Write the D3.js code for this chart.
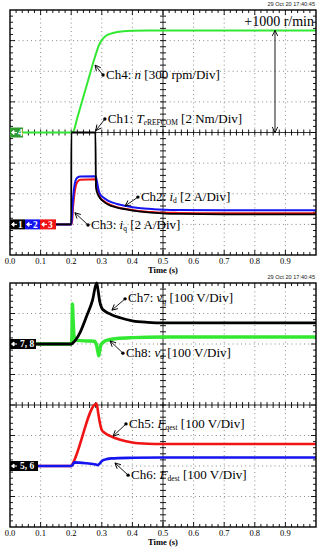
<!DOCTYPE html>
<html><head><meta charset="utf-8">
<script src="https://cdn.jsdelivr.net/npm/d3@7"></script>
<style>body{margin:0;background:#fff}svg{display:block}</style>
</head><body><svg id="c" width="321" height="550"></svg>
<script>
// ---------------- data ----------------
const tickValues = [0, 0.1, 0.2, 0.3, 0.4, 0.5, 0.6, 0.7, 0.8, 0.9];
const tickLabels = ["0.0","0.1","0.2","0.3","0.4","0.5","0.6","0.7","0.8","0.9"];
const timestamp = "29 Oct 20 17:40:45";

// Ch4 speed n (rpm)
const speedTime = [0, 0.2, 0.206, 0.22, 0.24, 0.26, 0.275, 0.283, 0.29, 0.30, 0.31, 0.32, 0.34, 0.37, 0.40, 0.45, 1.0];
const speedRpm  = [0, 0, 5, 145, 352, 560, 715, 790, 850, 905, 938, 958, 978, 991, 997, 1000, 1000];
// Ch1 torque reference (Nm)
const torqueTime = [0, 0.2, 0.2005, 0.279, 0.281, 0.287, 0.295, 0.305, 0.32, 0.35, 0.38, 0.42, 0.47, 0.55, 0.7, 1.0];
const torqueNm   = [0, 0, 9, 9, 2.4, 1.95, 1.7, 1.5, 1.3, 1.1, 0.98, 0.85, 0.75, 0.68, 0.65, 0.65];
// Ch2 id (A)
const idTime = [0, 0.2, 0.202, 0.205, 0.209, 0.214, 0.22, 0.23, 0.28, 0.284, 0.29, 0.295, 0.305, 0.32, 0.35, 0.38, 0.42, 0.47, 0.55, 0.7, 1.0];
const idAmp  = [0, 0, 0.3, 1.4, 2.3, 2.85, 3.05, 3.12, 3.14, 2.8, 2.2, 1.95, 1.75, 1.55, 1.33, 1.2, 1.07, 0.99, 0.94, 0.92, 0.92];
// Ch3 iq (A)
const iqTime = [0, 0.2, 0.203, 0.206, 0.21, 0.215, 0.22, 0.23, 0.28, 0.284, 0.29, 0.295, 0.305, 0.32, 0.35, 0.38, 0.42, 0.47, 0.55, 0.7, 1.0];
const iqAmp  = [0, 0, 0.2, 1.1, 1.9, 2.5, 2.78, 2.92, 2.94, 2.6, 2.0, 1.75, 1.55, 1.35, 1.12, 1.0, 0.88, 0.8, 0.75, 0.72, 0.72];
// Ch7 vq (V)
const vqTime = [0, 0.2, 0.205, 0.215, 0.23, 0.25, 0.27, 0.283, 0.288, 0.293, 0.30, 0.31, 0.33, 0.36, 0.40, 0.45, 0.5, 1.0];
const vqVolt = [0, 0, 3, 14, 40, 90, 145, 200, 175, 140, 118, 108, 97, 86, 76, 71, 69, 69];
// Ch8 vd (V)
const vdTime = [0, 0.2, 0.202, 0.204, 0.206, 0.209, 0.213, 0.22, 0.25, 0.275, 0.282, 0.287, 0.29, 0.293, 0.297, 0.303, 0.315, 0.35, 0.40, 0.5, 1.0];
const vdVolt = [0, 0, 15, 131, 90, 30, 14, 12, 10, 9, 0, -25, -39, -25, -3, 4, 12, 18, 21, 23, 23];
// Ch5 Fqest (V)
const fqTime = [0, 0.2, 0.205, 0.283, 0.288, 0.294, 0.30, 0.31, 0.33, 0.36, 0.40, 0.45, 0.5, 1.0];
const fqVolt = [0, 0, 8, 205, 175, 140, 118, 108, 97, 86, 77, 73, 72, 72];
// Ch6 Fdest (V)
const fdTime = [0, 0.2, 0.205, 0.21, 0.25, 0.28, 0.287, 0.293, 0.30, 0.31, 0.33, 0.40, 0.5, 1.0];
const fdVolt = [0, 0, 4, 12, 9, 5, 3, 8, 16, 21, 25, 27, 28, 28];

// ---------------- layout ----------------
const svg = d3.select("#c");
const X0 = 10, X1 = 316;
const x = d3.scaleLinear().domain([0, 1]).range([X0, X1]);
const panels = [
  {top: 10, bottom: 255},
  {top: 283, bottom: 527}
];
panels.forEach(p => { p.y = d3.scaleLinear().domain([-4, 4]).range([p.bottom, p.top]).clamp(true); });
const P1 = panels[0], P2 = panels[1];
const yLow1 = d3.scaleLinear().domain([-4, 0]).range([P1.bottom, P1.y(0)]).clamp(true);

const serif = "'Liberation Serif','Times New Roman',serif";
const GREEN = "#33e833", BLUE = "#1414f0", RED = "#f01414";

const defs = svg.append("defs");
defs.append("marker").attr("id", "ah").attr("viewBox", "0 0 10 10").attr("refX", 9).attr("refY", 5)
  .attr("markerWidth", 7).attr("markerHeight", 7).attr("markerUnits", "userSpaceOnUse").attr("orient", "auto-start-reverse")
  .append("path").attr("d", "M1,1 L9,5 L1,9").attr("fill", "none").attr("stroke", "#000").attr("stroke-width", 1.3);

function frame(p) {
  const g = svg.append("g");
  const y = p.y;
  for (let i = 1; i < 10; i++) {
    if (i === 5) continue;
    g.append("line").attr("x1", x(i / 10)).attr("x2", x(i / 10)).attr("y1", p.top).attr("y2", p.bottom)
      .attr("stroke", "#8a8a8a").attr("stroke-width", 1).attr("stroke-dasharray", "1,3.2");
  }
  for (let d = -3; d <= 3; d++) {
    if (d === 0) continue;
    g.append("line").attr("x1", X0).attr("x2", X1).attr("y1", y(d)).attr("y2", y(d))
      .attr("stroke", "#8a8a8a").attr("stroke-width", 1).attr("stroke-dasharray", "1,3.2");
  }
  g.append("line").attr("x1", X0).attr("x2", X1).attr("y1", y(0)).attr("y2", y(0)).attr("stroke", "#222").attr("stroke-width", 0.9);
  g.append("line").attr("x1", x(0.5)).attr("x2", x(0.5)).attr("y1", p.top).attr("y2", p.bottom).attr("stroke", "#222").attr("stroke-width", 0.9);
  for (let k = 1; k < 50; k++) {
    const t = k / 50, major = k % 5 === 0;
    const L = major ? 5 : 3;
    const xx = x(t);
    g.append("line").attr("x1", xx).attr("x2", xx).attr("y1", p.top).attr("y2", p.top + L).attr("stroke", "#000").attr("stroke-width", 0.9);
    g.append("line").attr("x1", xx).attr("x2", xx).attr("y1", p.bottom).attr("y2", p.bottom - L).attr("stroke", "#000").attr("stroke-width", 0.9);
    g.append("line").attr("x1", xx).attr("x2", xx).attr("y1", y(0) - 3).attr("y2", y(0) + 3).attr("stroke", "#000").attr("stroke-width", 0.9);
  }
  for (let k = -19; k < 20; k++) {
    const d = k / 5, major = k % 5 === 0;
    const L = major ? 5 : 3;
    const yy = y(d);
    g.append("line").attr("x1", X0).attr("x2", X0 + L).attr("y1", yy).attr("y2", yy).attr("stroke", "#000").attr("stroke-width", 0.9);
    g.append("line").attr("x1", X1).attr("x2", X1 - L).attr("y1", yy).attr("y2", yy).attr("stroke", "#000").attr("stroke-width", 0.9);
    g.append("line").attr("x1", x(0.5) - 3).attr("x2", x(0.5) + 3).attr("y1", yy).attr("y2", yy).attr("stroke", "#000").attr("stroke-width", 0.9);
  }
  g.selectAll("text.tl").data(tickValues).enter().append("text")
    .attr("x", d => x(d)).attr("y", p.bottom + 8.5).attr("text-anchor", "middle")
    .attr("font-family", serif).attr("font-size", 8.5).attr("fill", "#000")
    .text((d, i) => tickLabels[i]);
  g.append("text").attr("x", x(0.5)).attr("y", p.bottom + 18).attr("text-anchor", "middle")
    .attr("font-family", serif).attr("font-weight", "bold").attr("font-size", 8.5).text("Time (s)");
  return g;
}

function trace(ts, vs, yfun, color, w) {
  const pts = ts.map((t, i) => [t, vs[i]]);
  svg.append("path").datum(pts)
    .attr("d", d3.line().x(d => x(d[0])).y(d => yfun(d[1])).curve(d3.curveMonotoneX))
    .attr("fill", "none").attr("stroke", color).attr("stroke-width", w).attr("stroke-linejoin", "round");
}

frame(P1);
frame(P2);

trace(speedTime, speedRpm, v => P1.y(0 + v / 300), GREEN, 2);
trace(iqTime, iqAmp, v => yLow1(-3 + v / 2), RED, 2);
trace(idTime, idAmp, v => yLow1(-3 + v / 2), BLUE, 2);
trace(torqueTime, torqueNm, v => yLow1(-3 + v / 2), "#000", 1.8);

trace(vdTime, vdVolt, v => P2.y(2 + v / 100), GREEN, 3.4);
trace(vqTime, vqVolt, v => P2.y(2 + v / 100), "#000", 2.8);
trace(fqTime, fqVolt, v => P2.y(-2 + v / 100), RED, 2.6);
trace(fdTime, fdVolt, v => P2.y(-2 + v / 100), BLUE, 2.6);

panels.forEach(p => {
  svg.append("rect").attr("x", X0).attr("y", p.top).attr("width", X1 - X0).attr("height", p.bottom - p.top)
    .attr("fill", "none").attr("stroke", "#000").attr("stroke-width", 1.4);
});

function refBox(xs, w, yc, color, label, tx) {
  svg.append("rect").attr("x", xs).attr("y", yc - 5).attr("width", w).attr("height", 10).attr("fill", color);
  svg.append("path").attr("d", `M${xs + 1.5},${yc} L${xs + 4},${yc - 2} L${xs + 4},${yc + 2} Z M${xs + 3.5},${yc} L${xs + 7},${yc}`)
    .attr("fill", "#fff").attr("stroke", "#fff").attr("stroke-width", 1);
  svg.append("text").attr("x", xs + tx).attr("y", yc + 3.3).attr("font-family", serif).attr("font-size", 9.5)
    .attr("font-weight", "bold").attr("fill", "#fff").text(label);
}
refBox(X0, 13, P1.y(0), "#2f9a2f", "4", 8);
refBox(X0, 15, P1.y(-3), "#000", "1", 8);
refBox(X0 + 15, 15, P1.y(-3), BLUE, "2", 8);
refBox(X0 + 30, 16, P1.y(-3), RED, "3", 8);
refBox(X0, 26, P2.y(2), "#000", "7, 8", 10);
refBox(X0, 28, P2.y(-2), "#000", "5, 6", 10);

[P1, P2].forEach(p => {
  svg.append("text").attr("x", X1 - 1).attr("y", p.top - 4).attr("text-anchor", "end")
    .attr("font-family", "'Liberation Sans',Arial,sans-serif").attr("font-size", 5.6).attr("fill", "#222").text(timestamp);
});

svg.append("line").attr("x1", x(0.866)).attr("x2", x(0.866))
  .attr("y1", P1.y(0)).attr("y2", P1.y(1000 / 300))
  .attr("stroke", "#000").attr("stroke-width", 0.9)
  .attr("marker-start", "url(#ah)").attr("marker-end", "url(#ah)");
svg.append("text").attr("x", X1 - 2).attr("y", 26).attr("text-anchor", "end")
  .attr("font-family", serif).attr("font-size", 14).text("+1000 r/min");

const notes = [
  {p: P1, dot: [0.304, 1.88], tip: [0.278, 2.2], parts: [["Ch4: ", ""], ["n", "i"], [" [300 rpm/Div]", ""]]},
  {p: P1, dot: [0.310, 0.44], tip: [0.280, 0.06], parts: [["Ch1: ", ""], ["T", "i"], ["e", "si"], ["REFCOM", "s"], [" [2 Nm/Div]", ""]]},
  {p: P1, dot: [0.418, -2.11], tip: [0.376, -2.40], parts: [["Ch2: ", ""], ["i", "i"], ["d", "s"], [" [2 A/Div]", ""]]},
  {p: P1, dot: [0.255, -3.02], tip: [0.212, -2.62], parts: [["Ch3: ", ""], ["i", "i"], ["q", "s"], [" [2 A/Div]", ""]]},
  {p: P2, dot: [0.376, 3.48], tip: [0.333, 3.11], parts: [["Ch7: ", ""], ["v", "i"], ["q", "si"], [" [100 V/Div]", ""]]},
  {p: P2, dot: [0.369, 1.70], tip: [0.327, 2.10], parts: [["Ch8: ", ""], ["v", "i"], ["d", "si"], [" [100 V/Div]", ""]]},
  {p: P2, dot: [0.379, -0.62], tip: [0.337, -1.02], parts: [["Ch5: ", ""], ["F", "i"], ["qest", "s"], [" [100 V/Div]", ""]]},
  {p: P2, dot: [0.386, -2.30], tip: [0.343, -1.90], parts: [["Ch6: ", ""], ["F", "i"], ["dest", "s"], [" [100 V/Div]", ""]]}
];
notes.forEach(n => {
  const y = n.p.y;
  const dx = x(n.dot[0]), dy = y(n.dot[1]);
  svg.append("line").attr("x1", dx).attr("y1", dy).attr("x2", x(n.tip[0])).attr("y2", y(n.tip[1]))
    .attr("stroke", "#000").attr("stroke-width", 0.9).attr("marker-end", "url(#ah)");
  svg.append("circle").attr("cx", dx).attr("cy", dy).attr("r", 1.7).attr("fill", "#000");
  const t = svg.append("text").attr("x", dx + 3).attr("y", dy + 3.6).attr("font-family", serif).attr("font-size", 13).attr("fill", "#000");
  let sub = false;
  n.parts.forEach(([s, st]) => {
    const ts = t.append("tspan").text(s);
    const isSub = st.includes("s");
    if (st.includes("i")) ts.attr("font-style", "italic");
    if (isSub) ts.attr("font-size", 7.5);
    if (isSub && !sub) ts.attr("dy", 2);
    if (!isSub && sub) ts.attr("dy", -2);
    sub = isSub;
  });
});
</script>
</body></html>
